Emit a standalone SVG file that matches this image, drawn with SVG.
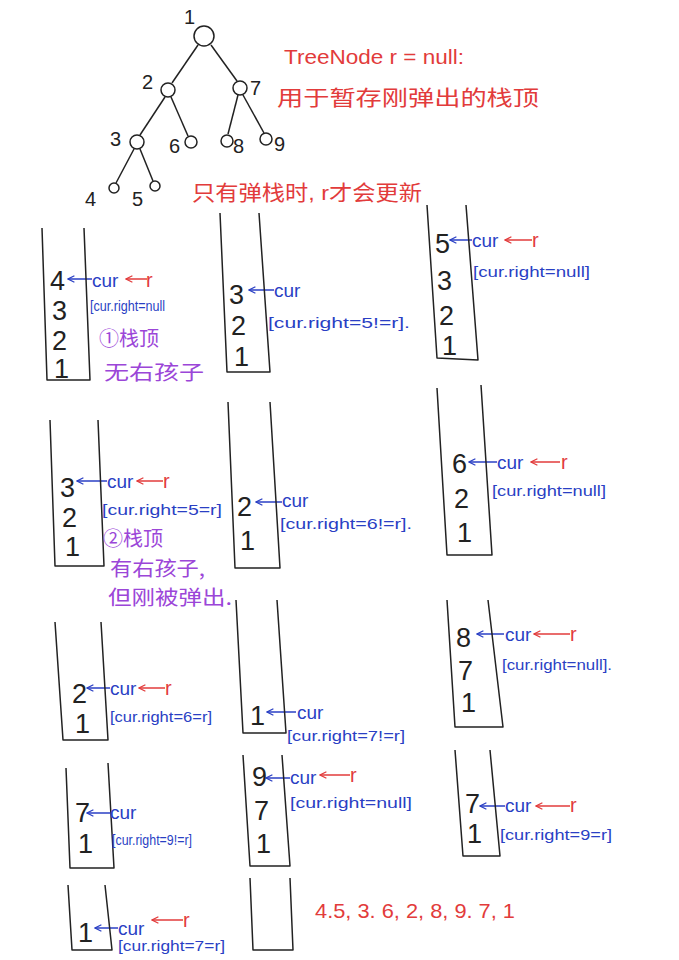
<svg xmlns="http://www.w3.org/2000/svg" width="679" height="960" viewBox="0 0 679 960">
<style>
.bg{fill:#ffffff}
.stk{fill:none;stroke:#222;stroke-width:1.5;stroke-linejoin:round}
.nd{fill:#fff;stroke:#222;stroke-width:1.5}
.ed{stroke:#222;stroke-width:1.5;fill:none}
.ab{stroke:#2a3fc4;stroke-width:1.5;fill:none;marker-end:url(#hb)}
.ar{stroke:#e23b3b;stroke-width:1.5;fill:none;marker-end:url(#hr)}
.num{font-family:"Liberation Sans","Noto Sans",sans-serif;font-size:27px;fill:#222}
.tn{font-family:"Liberation Sans","Noto Sans",sans-serif;font-size:20px;fill:#222}
.cur{font-family:"Liberation Sans","Noto Sans",sans-serif;font-size:19px;fill:#2a3fc4}
.cond{font-family:"Liberation Sans","Noto Sans",sans-serif;font-size:15px;fill:#2a3fc4}
.rr{font-family:"Liberation Sans","Noto Sans",sans-serif;font-size:20px;fill:#e23b3b}
.red{font-family:"Liberation Sans","Noto Sans CJK SC",sans-serif;font-size:21px;fill:#e23b3b}
.pur{font-family:"Noto Sans CJK SC",sans-serif;font-size:20px;fill:#9b46d8}
</style>
<defs>
<marker id="hb" viewBox="0 0 10 10" refX="9" refY="5" markerWidth="8" markerHeight="8" orient="auto" markerUnits="userSpaceOnUse"><path d="M1,1 L9,5 L1,9" fill="none" stroke="#2a3fc4" stroke-width="1.6"/></marker>
<marker id="hr" viewBox="0 0 10 10" refX="9" refY="5" markerWidth="8" markerHeight="8" orient="auto" markerUnits="userSpaceOnUse"><path d="M1,1 L9,5 L1,9" fill="none" stroke="#e23b3b" stroke-width="1.6"/></marker>
</defs>
<rect class="bg" x="0" y="0" width="679" height="960"/>

<g id="connectors">
<line class="ed" x1="198" y1="45" x2="172" y2="83"/>
<line class="ed" x1="211" y1="45" x2="237" y2="81"/>
<line class="ed" x1="165" y1="97" x2="140" y2="135"/>
<line class="ed" x1="171" y1="97" x2="188" y2="136"/>
<line class="ed" x1="238" y1="95" x2="228" y2="134"/>
<line class="ed" x1="243" y1="95" x2="264" y2="133"/>
<line class="ed" x1="134" y1="149" x2="116" y2="183"/>
<line class="ed" x1="140" y1="149" x2="153" y2="181"/>
<path class="ab" d="M92,279 L68,279"/>
<path class="ar" d="M147,279 L126,279"/>
<path class="ab" d="M274,290 L249,290"/>
<path class="ab" d="M472,240 L450,240"/>
<path class="ar" d="M532,240 L505,240"/>
<path class="ab" d="M107,481 L77,481"/>
<path class="ar" d="M163,481 L137,481"/>
<path class="ab" d="M282,502 L256,502"/>
<path class="ab" d="M497,462 L469,462"/>
<path class="ar" d="M560,462 L531,462"/>
<path class="ab" d="M110,688 L87,688"/>
<path class="ar" d="M165,688 L139,688"/>
<path class="ab" d="M296,712 L267,712"/>
<path class="ab" d="M504,634 L477,634"/>
<path class="ar" d="M570,634 L534,634"/>
<path class="ab" d="M110,813 L87,813"/>
<path class="ab" d="M290,778 L266,778"/>
<path class="ar" d="M350,775 L320,775"/>
<path class="ab" d="M505,806 L480,806"/>
<path class="ar" d="M570,806 L536,806"/>
<path class="ab" d="M118,928 L95,928"/>
<path class="ar" d="M183,920 L152,920"/>
</g>

<g id="tree">
<g id="n1"><circle class="nd" cx="204" cy="36" r="10"/><text class="tn" x="184" y="24">1</text></g>
<g id="n2"><circle class="nd" cx="168" cy="90" r="7"/><text class="tn" x="142" y="89">2</text></g>
<g id="n7"><circle class="nd" cx="240" cy="88" r="7"/><text class="tn" x="250" y="95">7</text></g>
<g id="n3"><circle class="nd" cx="137" cy="142" r="7"/><text class="tn" x="110" y="146">3</text></g>
<g id="n6"><circle class="nd" cx="191" cy="142" r="6"/><text class="tn" x="169" y="153">6</text></g>
<g id="n8"><circle class="nd" cx="227" cy="141" r="6"/><text class="tn" x="233" y="153">8</text></g>
<g id="n9"><circle class="nd" cx="266" cy="139" r="6"/><text class="tn" x="274" y="151">9</text></g>
<g id="n4"><circle class="nd" cx="114" cy="188" r="5"/><text class="tn" x="85" y="206">4</text></g>
<g id="n5"><circle class="nd" cx="155" cy="186" r="5"/><text class="tn" x="132" y="206">5</text></g>
</g>

<g id="notes">
<text class="red" x="284" y="64" textLength="180" lengthAdjust="spacingAndGlyphs">TreeNode  r = null:</text>
<text class="red" x="277" y="105" font-size="24" textLength="262" lengthAdjust="spacingAndGlyphs">用于暂存刚弹出的栈顶</text>
<text class="red" x="192" y="200" font-size="23" textLength="230" lengthAdjust="spacingAndGlyphs">只有弹栈时, r才会更新</text>
<text class="red" x="315" y="918" font-size="22" textLength="200" lengthAdjust="spacingAndGlyphs">4.5, 3. 6, 2, 8, 9. 7, 1</text>
</g>

<g id="stack1">
<path class="stk" d="M42,228 L47,380 L90,380 L84,228"/>
<text class="num" x="50" y="290">4</text><text class="num" x="52" y="320">3</text><text class="num" x="52" y="350">2</text><text class="num" x="54" y="378">1</text>
<text class="cur" x="92" y="287">cur</text><text class="rr" x="146" y="287">r</text>
<text class="cond" x="90" y="311" font-size="17" textLength="75" lengthAdjust="spacingAndGlyphs">[cur.right=null</text>
<text class="pur" x="99" y="346">①栈顶</text>
<text class="pur" x="104" y="380" font-size="23" textLength="100" lengthAdjust="spacingAndGlyphs">无右孩子</text>
</g>

<g id="stack2">
<path class="stk" d="M220,213 L227,372 L270,372 L259,213"/>
<text class="num" x="229" y="304">3</text><text class="num" x="231" y="335">2</text><text class="num" x="234" y="366">1</text>
<text class="cur" x="274" y="297">cur</text>
<text class="cond" x="268" y="328" textLength="142" lengthAdjust="spacingAndGlyphs">[cur.right=5!=r].</text>
</g>

<g id="stack3">
<path class="stk" d="M427,205 L437,358 L478,360 L466,205"/>
<text class="num" x="435" y="253">5</text><text class="num" x="437" y="290">3</text><text class="num" x="439" y="325">2</text><text class="num" x="442" y="355">1</text>
<text class="cur" x="472" y="247">cur</text><text class="rr" x="532" y="247">r</text>
<text class="cond" x="473" y="277" textLength="117" lengthAdjust="spacingAndGlyphs">[cur.right=null]</text>
</g>

<g id="stack4">
<path class="stk" d="M50,420 L55,566 L104,566 L98,420"/>
<text class="num" x="60" y="497">3</text><text class="num" x="62" y="527">2</text><text class="num" x="65" y="556">1</text>
<text class="cur" x="107" y="488">cur</text><text class="rr" x="163" y="488">r</text>
<text class="cond" x="102" y="515" textLength="120" lengthAdjust="spacingAndGlyphs">[cur.right=5=r]</text>
<text class="pur" x="103" y="546">②栈顶</text>
<text class="pur" x="110" y="576" textLength="95" lengthAdjust="spacingAndGlyphs">有右孩子,</text>
<text class="pur" x="108" y="605" textLength="124" lengthAdjust="spacingAndGlyphs">但刚被弹出.</text>
</g>

<g id="stack5">
<path class="stk" d="M228,402 L235,568 L280,568 L270,402"/>
<text class="num" x="237" y="516">2</text><text class="num" x="240" y="550">1</text>
<text class="cur" x="282" y="507">cur</text>
<text class="cond" x="280" y="529" textLength="132" lengthAdjust="spacingAndGlyphs">[cur.right=6!=r].</text>
</g>

<g id="stack6">
<path class="stk" d="M437,388 L447,555 L492,555 L481,385"/>
<text class="num" x="452" y="473">6</text><text class="num" x="454" y="508">2</text><text class="num" x="457" y="542">1</text>
<text class="cur" x="497" y="469">cur</text><text class="rr" x="561" y="469">r</text>
<text class="cond" x="492" y="496" textLength="114" lengthAdjust="spacingAndGlyphs">[cur.right=null]</text>
</g>

<g id="stack7">
<path class="stk" d="M55,622 L63,740 L108,740 L101,622"/>
<text class="num" x="72" y="703">2</text><text class="num" x="75" y="733">1</text>
<text class="cur" x="110" y="695">cur</text><text class="rr" x="165" y="695">r</text>
<text class="cond" x="110" y="722" textLength="102" lengthAdjust="spacingAndGlyphs">[cur.right=6=r]</text>
</g>

<g id="stack8">
<path class="stk" d="M236,600 L243,733 L286,733 L277,600"/>
<text class="num" x="250" y="725">1</text>
<text class="cur" x="297" y="719">cur</text>
<text class="cond" x="287" y="741" textLength="118" lengthAdjust="spacingAndGlyphs">[cur.right=7!=r]</text>
</g>

<g id="stack9">
<path class="stk" d="M447,600 L455,727 L503,727 L488,600"/>
<text class="num" x="456" y="647">8</text><text class="num" x="458" y="680">7</text><text class="num" x="461" y="712">1</text>
<text class="cur" x="505" y="641">cur</text><text class="rr" x="570" y="641">r</text>
<text class="cond" x="502" y="670" textLength="110" lengthAdjust="spacingAndGlyphs">[cur.right=null].</text>
</g>

<g id="stack10">
<path class="stk" d="M66,768 L70,868 L114,868 L108,763"/>
<text class="num" x="75" y="822">7</text><text class="num" x="78" y="853">1</text>
<text class="cur" x="110" y="819">cur</text>
<text class="cond" x="112" y="845" font-size="16" textLength="80" lengthAdjust="spacingAndGlyphs">[cur.right=9!=r]</text>
</g>

<g id="stack11">
<path class="stk" d="M243,755 L250,866 L290,866 L282,755"/>
<text class="num" x="252" y="786">9</text><text class="num" x="254" y="820">7</text><text class="num" x="256" y="853">1</text>
<text class="cur" x="290" y="784">cur</text><text class="rr" x="350" y="782">r</text>
<text class="cond" x="290" y="808" textLength="122" lengthAdjust="spacingAndGlyphs">[cur.right=null]</text>
</g>

<g id="stack12">
<path class="stk" d="M455,750 L463,856 L500,856 L490,750"/>
<text class="num" x="465" y="813">7</text><text class="num" x="467" y="843">1</text>
<text class="cur" x="505" y="812">cur</text><text class="rr" x="570" y="812">r</text>
<text class="cond" x="500" y="840" textLength="112" lengthAdjust="spacingAndGlyphs">[cur.right=9=r]</text>
</g>

<g id="stack13">
<path class="stk" d="M68,885 L72,950 L112,950 L105,885"/>
<text class="num" x="78" y="942">1</text>
<text class="cur" x="118" y="935">cur</text><text class="rr" x="183" y="927">r</text>
<text class="cond" x="118" y="951" textLength="107" lengthAdjust="spacingAndGlyphs">[cur.right=7=r]</text>
</g>

<g id="stack14">
<path class="stk" d="M250,878 L253,950 L293,950 L290,878"/>
</g>
</svg>
